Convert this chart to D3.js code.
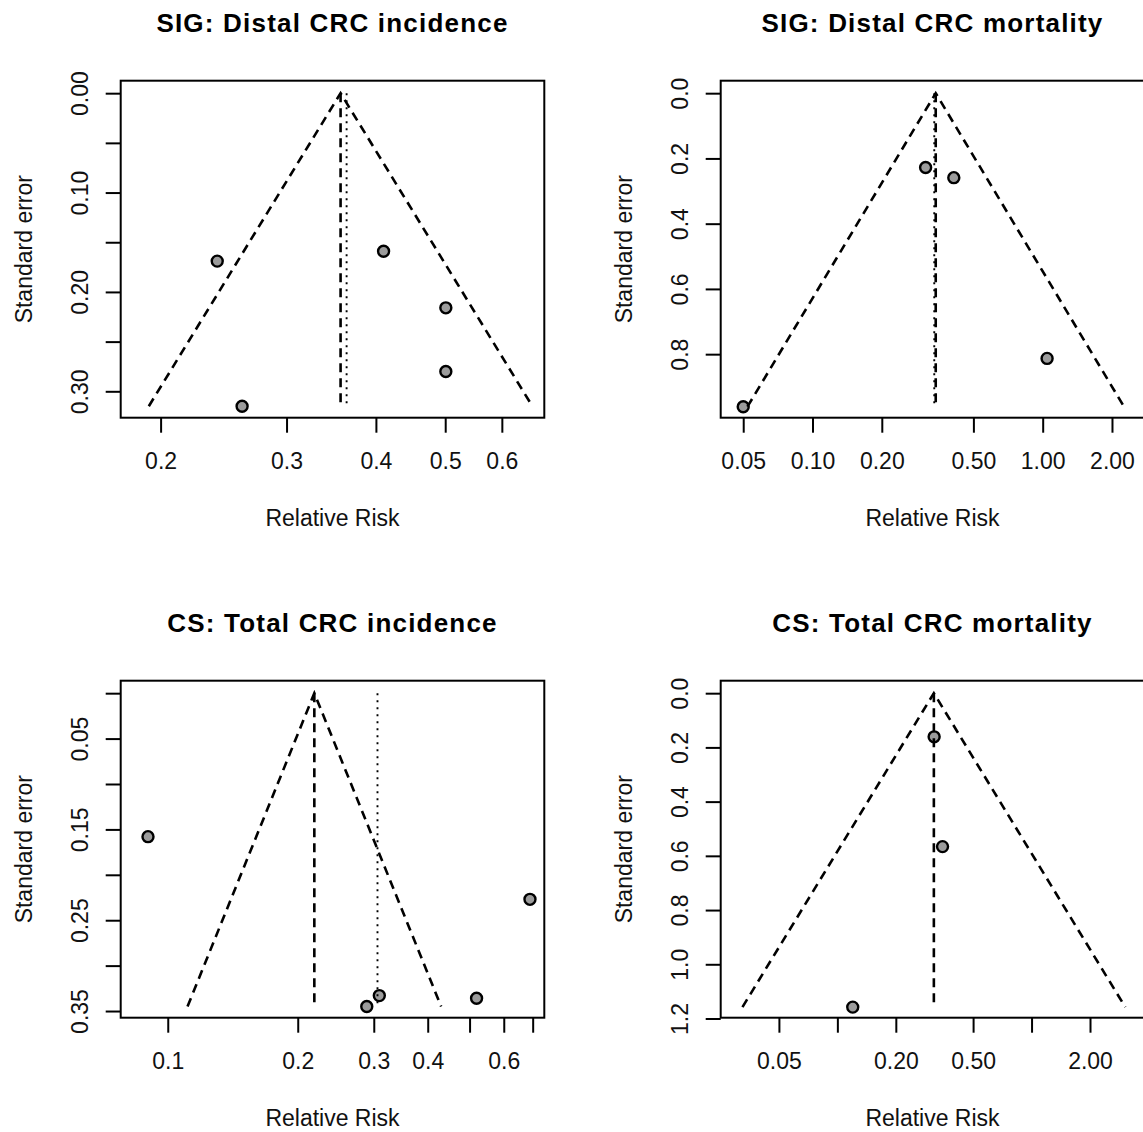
<!DOCTYPE html>
<html>
<head>
<meta charset="utf-8">
<script src="https://cdn.jsdelivr.net/npm/d3@7"></script>
<style>
    body { margin: 0; background: #fff; }
    svg { display: block; }
</style>
</head>
<body>
<div id="container"><svg></svg></div>
<script>
const SVG_WIDTH = 1143;
const SVG_HEIGHT = 1132;
const FONT = '"Liberation Sans", Arial, sans-serif';
const BOX = {left: 120.7, top: 80.7, width: 423.6, height: 337};
const PANEL_OFFSETS = [[0, 0], [600, 0], [0, 600], [600, 600]];

const titles = ['SIG: Distal CRC incidence', 'SIG: Distal CRC mortality',
                'CS: Total CRC incidence', 'CS: Total CRC mortality'];

// relative risk and standard error of each study
const sig_inc_rr = [0.240, 0.410, 0.501, 0.501, 0.260];
const sig_inc_se = [0.169, 0.159, 0.216, 0.280, 0.315];
const sig_mort_rr = [0.310, 0.411, 1.045, 0.050];
const sig_mort_se = [0.228, 0.259, 0.813, 0.961];
const cs_inc_rr = [0.090, 0.690, 0.309, 0.289, 0.519];
const cs_inc_se = [0.158, 0.227, 0.333, 0.345, 0.336];
const cs_mort_rr = [0.315, 0.348, 0.120];
const cs_mort_se = [0.161, 0.566, 1.158];

// pooled estimates: fixed (dashed, funnel apex) and random (dotted, none visible in the last panel)
const fixed_rr = [0.357, 0.343, 0.2185, 0.314];
const random_rr = [0.364, 0.338, 0.306, null];

// plot limits before the 4% R expansion
const xlims = [[0.185, 0.654], [0.0467, 2.362], [0.0846, 0.685], [0.0302, 3.161]];
const ylims = [[0, 0.314], [0, 0.9565], [0, 0.3436], [0, 1.151]];

const sig_inc_xticks = [0.2, 0.3, 0.4, 0.5, 0.6];
const sig_inc_xlabels = ['0.2', '0.3', '0.4', '0.5', '0.6'];
const sig_inc_yticks = [0, 0.05, 0.10, 0.15, 0.20, 0.25, 0.30];
const sig_inc_ylabels = ['0.00', '', '0.10', '', '0.20', '', '0.30'];

const sig_mort_xticks = [0.05, 0.1, 0.2, 0.5, 1, 2];
const sig_mort_xlabels = ['0.05', '0.10', '0.20', '0.50', '1.00', '2.00'];
const sig_mort_yticks = [0, 0.2, 0.4, 0.6, 0.8];
const sig_mort_ylabels = ['0.0', '0.2', '0.4', '0.6', '0.8'];

const cs_inc_xticks = [0.1, 0.2, 0.3, 0.4, 0.5, 0.6, 0.7];
const cs_inc_xlabels = ['0.1', '0.2', '0.3', '0.4', '', '0.6', ''];
const cs_inc_yticks = [0, 0.05, 0.10, 0.15, 0.20, 0.25, 0.30, 0.35];
const cs_inc_ylabels = ['', '0.05', '', '0.15', '', '0.25', '', '0.35'];

const cs_mort_xticks = [0.05, 0.1, 0.2, 0.5, 1, 2];
const cs_mort_xlabels = ['0.05', '', '0.20', '0.50', '', '2.00'];
const cs_mort_yticks = [0, 0.2, 0.4, 0.6, 0.8, 1.0, 1.2];
const cs_mort_ylabels = ['0.0', '0.2', '0.4', '0.6', '0.8', '1.0', '1.2'];

const panels = [
    {rr: sig_inc_rr, se: sig_inc_se, xticks: sig_inc_xticks, xlabels: sig_inc_xlabels,
     yticks: sig_inc_yticks, ylabels: sig_inc_ylabels},
    {rr: sig_mort_rr, se: sig_mort_se, xticks: sig_mort_xticks, xlabels: sig_mort_xlabels,
     yticks: sig_mort_yticks, ylabels: sig_mort_ylabels},
    {rr: cs_inc_rr, se: cs_inc_se, xticks: cs_inc_xticks, xlabels: cs_inc_xlabels,
     yticks: cs_inc_yticks, ylabels: cs_inc_ylabels},
    {rr: cs_mort_rr, se: cs_mort_se, xticks: cs_mort_xticks, xlabels: cs_mort_xlabels,
     yticks: cs_mort_yticks, ylabels: cs_mort_ylabels}
];

function draw_panel(svg, p, i) {
    let offset = PANEL_OFFSETS[i];
    let g = svg.append('g')
        .attr('transform', `translate(${offset[0] + BOX.left}, ${offset[1] + BOX.top})`);

    // R style 4% padding on the log x and linear y ranges
    let lx = xlims[i].map(Math.log);
    let xpad = (lx[1] - lx[0]) * 0.04;
    let x = d3.scaleLog()
        .domain([Math.exp(lx[0] - xpad), Math.exp(lx[1] + xpad)])
        .range([0, BOX.width]);
    let ypad = (ylims[i][1] - ylims[i][0]) * 0.04;
    let y = d3.scaleLinear()
        .domain([ylims[i][0] - ypad, ylims[i][1] + ypad])
        .range([0, BOX.height]);

    let max_se = d3.max(p.se);
    let centre = fixed_rr[i];
    let z = 1.96 * max_se;

    // study points
    g.selectAll('circle')
        .data(p.rr)
        .enter()
        .append('circle')
        .attr('cx', d => x(d))
        .attr('cy', (d, j) => y(p.se[j]))
        .attr('r', 5.5)
        .attr('fill', '#9c9c9c')
        .attr('stroke', '#000')
        .attr('stroke-width', 2.4);

    // funnel
    let line = d3.line().x(d => x(d[0])).y(d => y(d[1]));
    g.append('path')
        .attr('d', line([[Math.exp(Math.log(centre) - z), max_se], [centre, 0],
                         [Math.exp(Math.log(centre) + z), max_se]]))
        .attr('fill', 'none')
        .attr('stroke', '#000')
        .attr('stroke-width', 2.6)
        .attr('stroke-dasharray', '9,6');

    g.append('path')
        .attr('d', line([[centre, 0], [centre, max_se]]))
        .attr('fill', 'none')
        .attr('stroke', '#000')
        .attr('stroke-width', 2.6)
        .attr('stroke-dasharray', '9,6');

    if (random_rr[i] != null) {
        g.append('path')
            .attr('d', line([[random_rr[i], 0], [random_rr[i], max_se]]))
            .attr('fill', 'none')
            .attr('stroke', '#000')
            .attr('stroke-width', 1.9)
            .attr('stroke-dasharray', '2,5');
    }

    // box
    g.append('rect')
        .attr('x', 0)
        .attr('y', 0)
        .attr('width', BOX.width)
        .attr('height', BOX.height)
        .attr('fill', 'none')
        .attr('stroke', '#000')
        .attr('stroke-width', 2);

    // x axis
    let x_axis = d3.axisBottom(x)
        .tickValues(p.xticks)
        .tickFormat((d, j) => p.xlabels[j])
        .tickSize(15)
        .tickSizeOuter(0);
    let xg = g.append('g')
        .attr('transform', `translate(0, ${BOX.height})`)
        .call(x_axis);
    xg.select('.domain').remove();
    xg.attr('font-size', 23).attr('font-family', FONT);
    xg.selectAll('.tick line').attr('stroke-width', 2);
    xg.selectAll('.tick text').attr('y', 51.6).attr('dy', null).attr('fill', '#111');

    // y axis, labels read bottom to top as in R
    let y_axis = d3.axisLeft(y)
        .tickValues(p.yticks)
        .tickFormat((d, j) => p.ylabels[j])
        .tickSize(15)
        .tickSizeOuter(0);
    let yg = g.append('g').call(y_axis);
    yg.select('.domain').remove();
    yg.attr('font-size', 23).attr('font-family', FONT);
    yg.selectAll('.tick line').attr('stroke-width', 2);
    yg.selectAll('.tick text')
        .attr('x', null)
        .attr('dy', null)
        .attr('text-anchor', 'middle')
        .attr('transform', 'translate(-33.2, 0) rotate(-90)')
        .attr('fill', '#111');

    g.append('text')
        .attr('text-anchor', 'middle')
        .attr('x', BOX.width / 2)
        .attr('y', -49.2)
        .attr('font-family', FONT)
        .attr('font-weight', 'bold')
        .attr('font-size', 26)
        .attr('letter-spacing', 1.2)
        .text(titles[i]);

    g.append('text')
        .attr('text-anchor', 'middle')
        .attr('x', BOX.width / 2)
        .attr('y', BOX.height + 108.3)
        .attr('font-family', FONT)
        .attr('font-size', 23)
        .attr('fill', '#111')
        .text('Relative Risk');

    g.append('text')
        .attr('text-anchor', 'middle')
        .attr('transform', `translate(-89, ${BOX.height / 2}) rotate(-90)`)
        .attr('font-family', FONT)
        .attr('font-size', 23)
        .attr('fill', '#111')
        .text('Standard error');
}

function draw() {
    let svg = d3.select('#container')
        .select('svg')
        .attr('width', SVG_WIDTH)
        .attr('height', SVG_HEIGHT);
    panels.forEach((p, i) => draw_panel(svg, p, i));
}

draw();
</script>
</body>
</html>
